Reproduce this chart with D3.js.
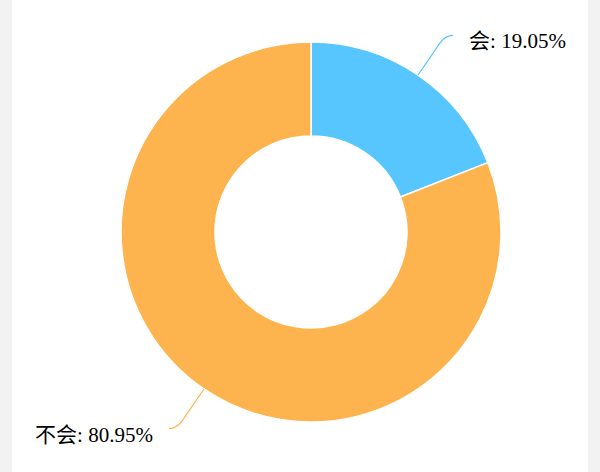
<!DOCTYPE html>
<html><head><meta charset="utf-8">
<script src="https://cdn.jsdelivr.net/npm/d3@7"></script>
<style>
html,body{margin:0;padding:0;background:#f2f2f2;}
svg{display:block;}
</style></head>
<body>
<svg id="c" width="600" height="472"></svg>
<script>
const categories = ["会", "不会"];
const values = [19.05, 80.95];
const colors = ["#58c6fe", "#fdb44f"];

const W = 600, H = 472;
const cx = 311, cy = 232, rOuter = 190, rInner = 96;
const svg = d3.select("#c");
svg.append("rect").attr("x", 12).attr("y", 0).attr("width", 576).attr("height", H).attr("fill", "#ffffff");

const data = categories.map((c, i) => ({name: c, value: values[i], color: colors[i]}));
const pie = d3.pie().sort(null).value(d => d.value);
const arc = d3.arc().innerRadius(rInner).outerRadius(rOuter);
const g = svg.append("g").attr("transform", `translate(${cx},${cy})`);
const arcs = pie(data);

g.selectAll("path.slice").data(arcs).enter().append("path")
  .attr("class", "slice")
  .attr("d", arc)
  .attr("fill", d => d.data.color)
  .attr("stroke", "#ffffff")
  .attr("stroke-width", 1.5)
  .attr("stroke-linejoin", "round");

const len1 = 48, len2 = 8, gap = 16;
arcs.forEach(d => {
  const a = (d.startAngle + d.endAngle) / 2;
  const sx = Math.sin(a), sy = -Math.cos(a);
  const p0 = [rOuter * sx, rOuter * sy];
  const p1 = [(rOuter + len1) * sx, (rOuter + len1) * sy];
  const dir = sx >= 0 ? 1 : -1;
  const p2 = [p1[0] + dir * len2, p1[1]];
  const t = 0.8;
  const q0 = [p0[0] + (p1[0] - p0[0]) * t, p0[1] + (p1[1] - p0[1]) * t];
  g.append("path")
    .attr("d", `M${p0[0]},${p0[1]} L${q0[0]},${q0[1]} Q${p1[0]},${p1[1]} ${p2[0]},${p2[1]}`)
    .attr("fill", "none")
    .attr("stroke", d.data.color)
    .attr("stroke-width", 1.2);
  g.append("text")
    .attr("x", p2[0] + dir * gap)
    .attr("y", p2[1] + 13)
    .attr("text-anchor", dir > 0 ? "start" : "end")
    .attr("font-family", "'Liberation Serif', 'Noto Sans CJK SC', serif")
    .attr("font-size", 21)
    .attr("fill", "#000000")
    .text(`${d.data.name}: ${d.data.value.toFixed(2)}%`);
});
</script>
</body></html>
